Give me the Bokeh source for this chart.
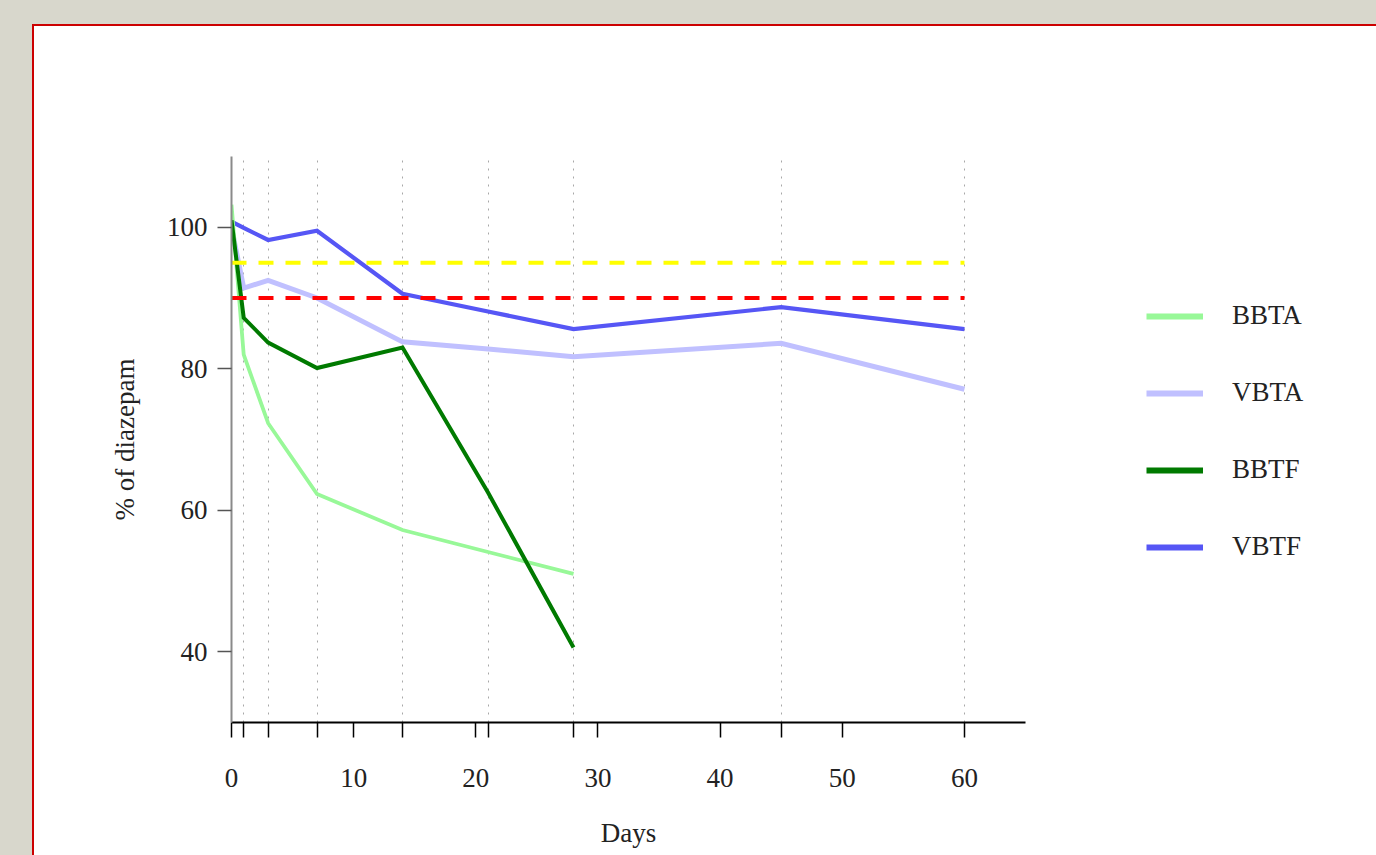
from bokeh.plotting import figure
from bokeh.models import FixedTicker, Legend, LegendItem, Spacer
from bokeh.layouts import column, row
from bokeh.embed import file_html
from bokeh.resources import INLINE

# ---- data ----
series_names = ["BBTA", "VBTA", "BBTF", "VBTF"]
bbta_days = [0, 1, 3, 7, 14, 21, 28]
bbta_vals = [103.2, 82.0, 72.3, 62.3, 57.2, 54.1, 51.0]
vbta_days = [0, 1, 3, 7, 14, 21, 28, 45, 60]
vbta_vals = [100.0, 91.4, 92.5, 90.0, 83.8, 82.8, 81.7, 83.6, 77.1]
bbtf_days = [0, 1, 3, 7, 14, 21, 28]
bbtf_vals = [101.0, 87.2, 83.7, 80.1, 83.0, 62.5, 40.6]
vbtf_days = [0, 1, 3, 7, 14, 21, 28, 45, 60]
vbtf_vals = [100.8, 99.9, 98.2, 99.5, 90.6, 88.1, 85.6, 88.7, 85.6]

limit_days = [0, 60]
upper_limit = [95, 95]
lower_limit = [90, 90]

x_major_ticks = [0, 10, 20, 30, 40, 50, 60]
sampling_days = [1, 3, 7, 14, 21, 28, 45]
grid_days = [1, 3, 7, 14, 21, 28, 45, 60]
y_ticks = [40, 60, 80, 100]

# ---- styles ----
SERIF = "Liberation Serif"
TXT = "#222222"
FS = "27px"
colors = {"BBTA": "#98f898", "VBTA": "#c0c0ff", "BBTF": "#007a00", "VBTF": "#5656f5"}
widths = {"BBTA": 3.8, "VBTA": 5, "BBTF": 4, "VBTF": 4.2}

data = {
    "BBTA": (bbta_days, bbta_vals),
    "VBTA": (vbta_days, vbta_vals),
    "BBTF": (bbtf_days, bbtf_vals),
    "VBTF": (vbtf_days, vbtf_vals),
}

# ---------------- main chart ----------------
p = figure(width=1066, height=829, x_range=(0, 65), y_range=(30, 110),
           output_backend="svg", toolbar_location=None,
           min_border_left=197, min_border_right=75,
           min_border_top=130, min_border_bottom=133)
p.border_fill_color = "white"
p.background_fill_color = "white"
p.outline_line_color = None

# grid
p.ygrid.grid_line_color = None
p.xgrid.ticker = FixedTicker(ticks=grid_days)
p.xgrid.grid_line_color = "#a8a8a8"
p.xgrid.grid_line_dash = "2 6"
p.xgrid.grid_line_width = 1

# x axis
xa = p.xaxis[0]
xa.ticker = FixedTicker(ticks=x_major_ticks, minor_ticks=sampling_days)
xa.axis_line_color = "black"
xa.axis_line_width = 2
xa.major_tick_out = 15
xa.major_tick_in = 0
xa.minor_tick_out = 15
xa.minor_tick_in = 0
xa.major_tick_line_color = "black"
xa.minor_tick_line_color = "black"
xa.major_tick_line_width = 1.5
xa.minor_tick_line_width = 1.5
xa.major_label_text_font = SERIF
xa.major_label_text_font_size = FS
xa.major_label_text_color = TXT
xa.major_label_standoff = 31
xa.axis_label = "Days"
xa.axis_label_text_font = SERIF
xa.axis_label_text_font_size = FS
xa.axis_label_text_font_style = "normal"
xa.axis_label_text_color = TXT
xa.axis_label_standoff = 28

# y axis
ya = p.yaxis[0]
ya.ticker = FixedTicker(ticks=y_ticks, minor_ticks=[])
ya.axis_line_color = "#8a8a8a"
ya.axis_line_width = 2
ya.major_tick_out = 14
ya.major_tick_in = 0
ya.minor_tick_out = 0
ya.major_tick_line_color = "#555555"
ya.major_tick_line_width = 1.5
ya.major_label_text_font = SERIF
ya.major_label_text_font_size = FS
ya.major_label_text_color = TXT
ya.major_label_standoff = 10
ya.axis_label = "% of diazepam"
ya.axis_label_text_font = SERIF
ya.axis_label_text_font_size = FS
ya.axis_label_text_font_style = "normal"
ya.axis_label_text_color = TXT
ya.axis_label_standoff = 24

# series
draw_order = ["VBTA", "VBTF", "BBTA", "BBTF"]
for name in draw_order:
    d, v = data[name]
    p.line(d, v, line_color=colors[name], line_width=widths[name],
           line_join="miter")

# specification limits
p.line(limit_days, upper_limit, line_color="#ffff00", line_width=4, line_dash="15 12")
p.line(limit_days, lower_limit, line_color="#ff0000", line_width=4, line_dash="15 12")

# ---------------- legend panel (separate figure to the right) ----------------
lg = figure(width=276, height=829, x_range=(1000, 1001), y_range=(1000, 1001),
            output_backend="svg", toolbar_location=None,
            x_axis_location=None, y_axis_location=None,
            min_border=0, min_border_left=0, min_border_right=0,
            min_border_top=0, min_border_bottom=0)
lg.border_fill_color = "white"
lg.background_fill_color = "white"
lg.outline_line_color = None
lg.grid.grid_line_color = None

items = []
for name in series_names:
    d, v = data[name]
    r = lg.line(d, v, line_color=colors[name], line_width=6)
    items.append(LegendItem(label=name, renderers=[r]))
legend = Legend(items=items, location=(46, 160), orientation="vertical",
                glyph_width=57, glyph_height=30, label_height=30,
                spacing=46, label_standoff=29, padding=0, margin=0,
                border_line_color=None, background_fill_alpha=0,
                label_text_font=SERIF, label_text_font_size=FS,
                label_text_color=TXT)
lg.add_layout(legend, "center")

panel = row(p, lg, styles={"outline": "2px solid #cc0000", "background-color": "white"})
lay = column(Spacer(height=26), row(Spacer(width=34), panel))

html = file_html(lay, INLINE, title="Diazepam stability")
html = html.replace("</head>", "<style>html,body{background:#d8d7cc;overflow:hidden}</style></head>", 1)
open("out.html", "w").write(html)
